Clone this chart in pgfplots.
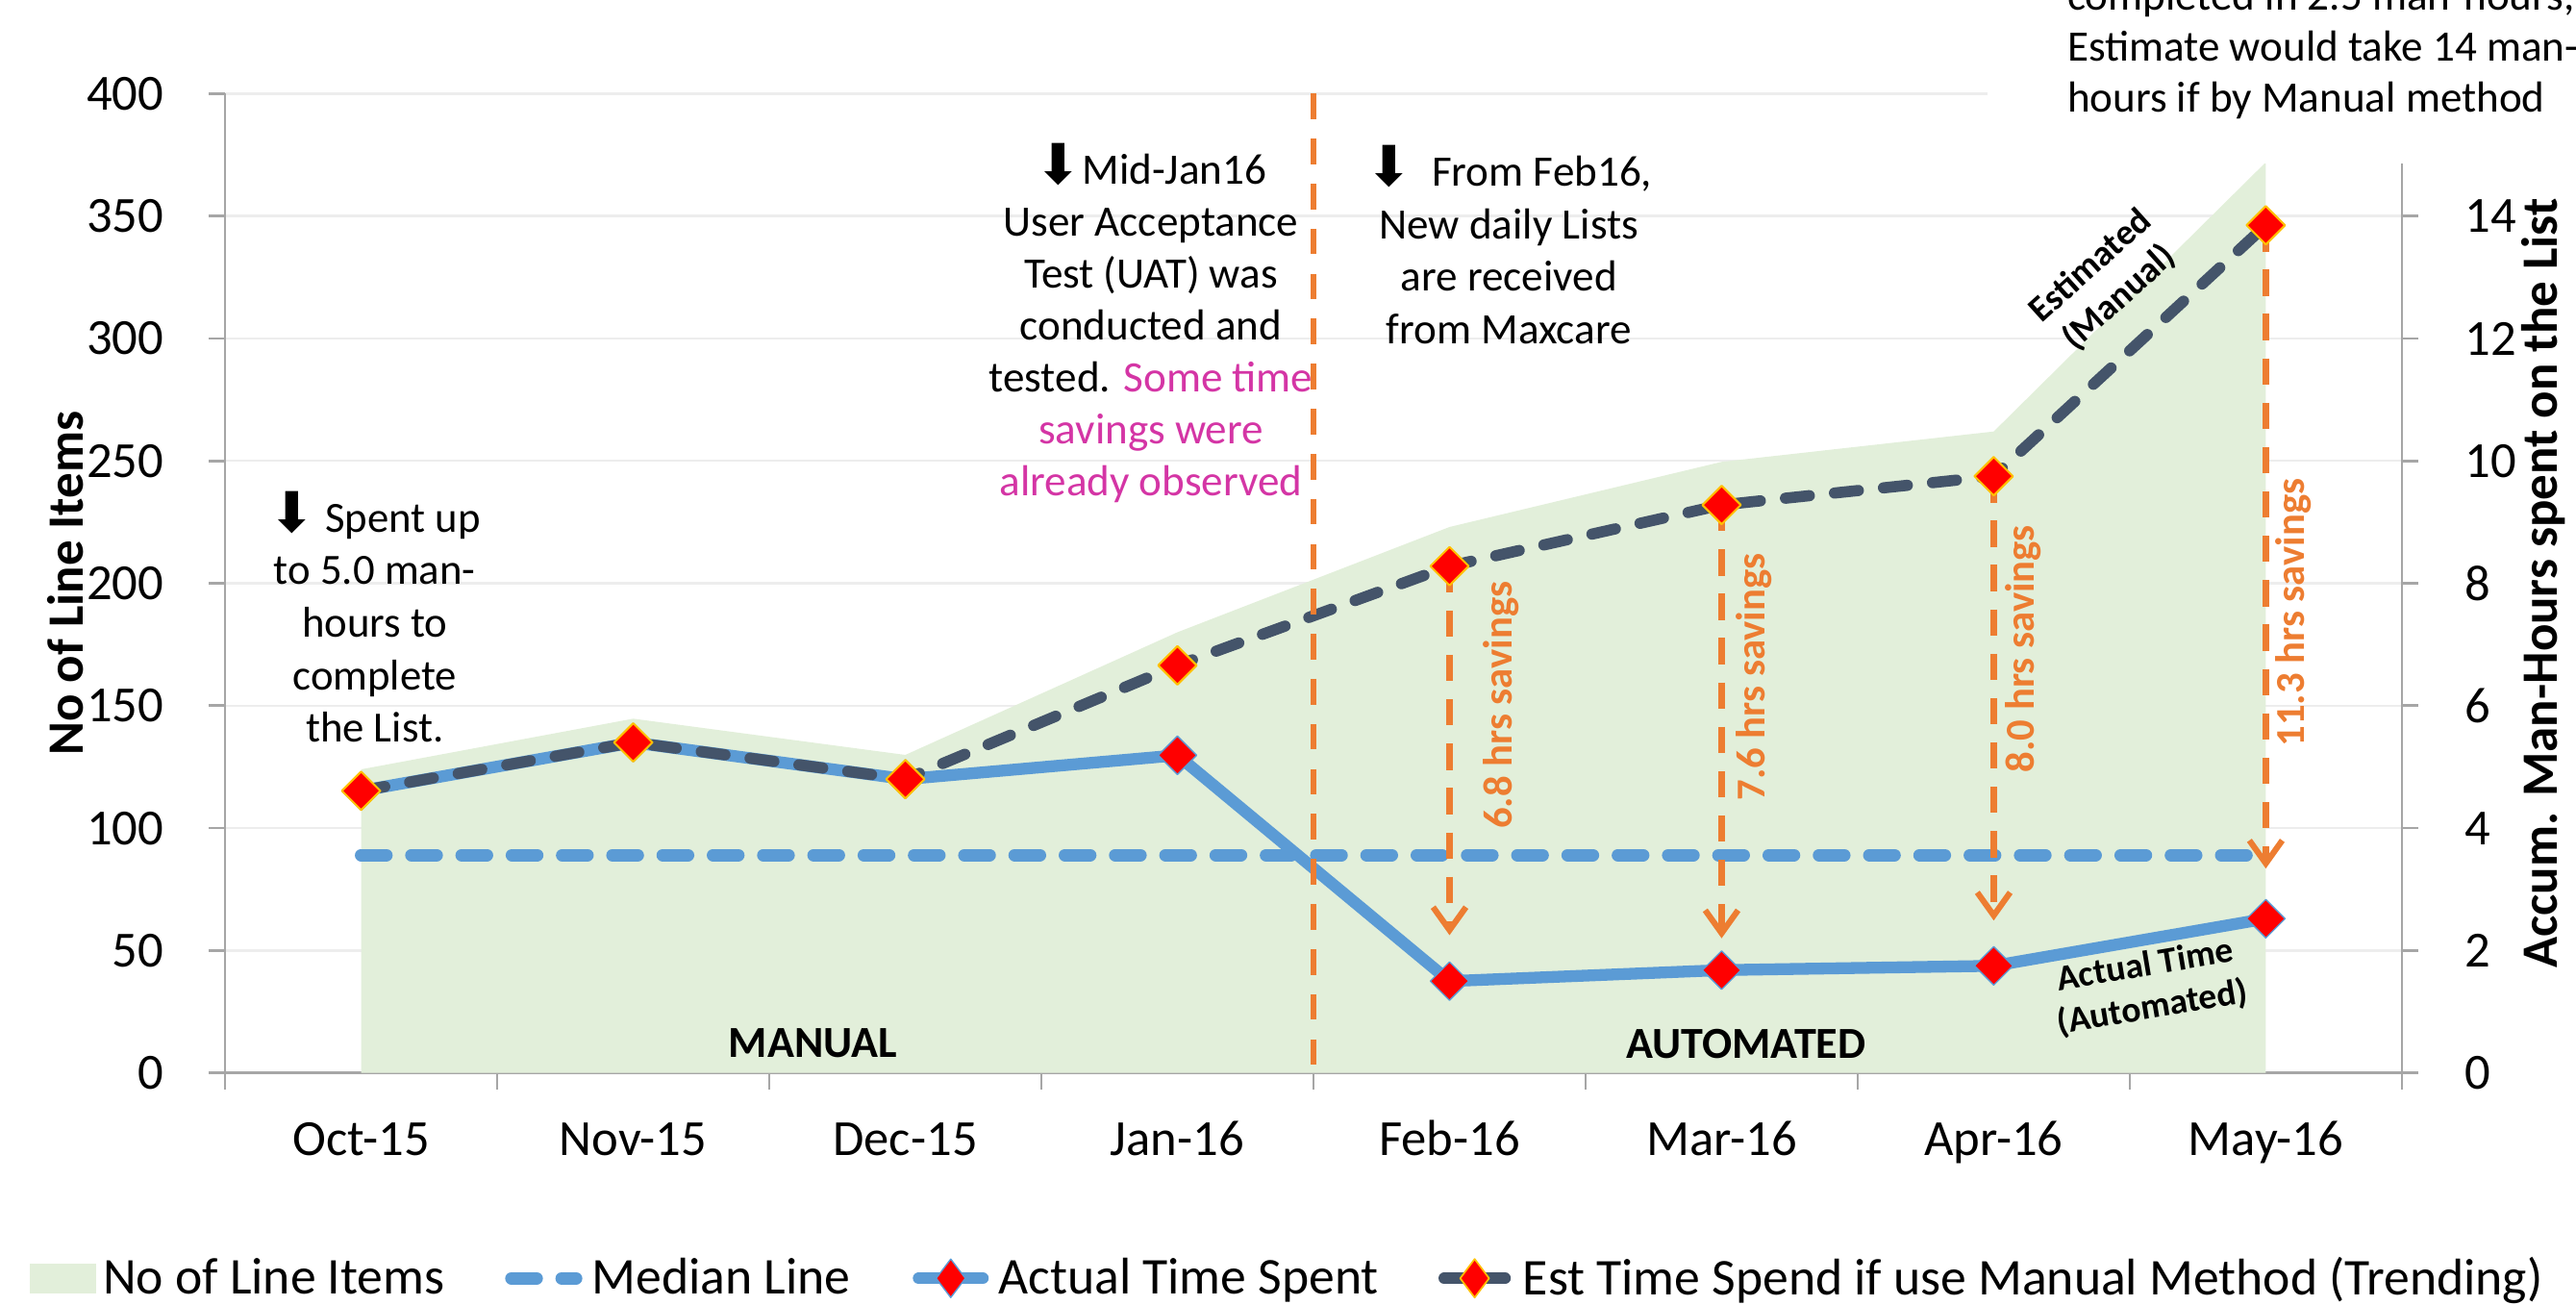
\documentclass[border=0pt]{standalone}
\usepackage{fontspec}
\setmainfont{Carlito}
\newfontfamily\dejavu{DejaVu Sans}
\usepackage{pgfplots}
\pgfplotsset{compat=1.18}
\usetikzlibrary{arrows.meta}
\definecolor{areacol}{HTML}{E2EFDA}
\definecolor{medblue}{HTML}{5B9BD5}
\definecolor{darkslate}{HTML}{44546A}
\definecolor{orng}{HTML}{ED7D31}
\definecolor{magen}{HTML}{D435A5}
\definecolor{goldc}{HTML}{FFC000}
\definecolor{axgray}{HTML}{A6A6A6}
\definecolor{gridgray}{HTML}{EDEDED}
\newcommand{\darr}{{\dejavu\fontsize{17}{16}\selectfont ⬇}}
\newcommand{\fs}[2]{\fontsize{#1}{#2}\selectfont}

\begin{document}
\begin{tikzpicture}
\pgfplotsset{
  common/.style={
    at={(0,0)}, anchor=south west,
    scale only axis, width=662.5pt, height=298pt,
    xmin=-0.5, xmax=7.5,
    /pgf/number format/assume math mode=true,
    tick label style={font=\fs{15.4}{18}},
    axis line style={axgray, line width=0.8pt},
    tick style={axgray, line width=0.8pt},
    tick align=outside,
    major tick length=5pt, minor tick length=5pt,
  },
}
\begin{axis}[common,
  ymin=0, ymax=400,
  axis y line*=left, axis x line*=bottom,
  xtick={-0.5,0.5,...,7.5},
  xticklabel={\relax},
  extra x ticks={0,1,2,3,4,5,6,7},
  extra x tick labels={Oct-15,Nov-15,Dec-15,Jan-16,Feb-16,Mar-16,Apr-16,May-16},
  extra x tick style={tick style={draw=none}},
  ytick={0,50,...,400},
  ymajorgrids, grid style={gridgray, line width=0.7pt},
  xticklabel style={inner sep=0pt, anchor=north, yshift=-10pt, text height=10pt, text depth=0pt},
  yticklabel style={inner sep=0pt, anchor=east, xshift=-13.5pt},
  ylabel={No of Line Items},
  every axis y label/.style={at={(axis description cs:-0.0732,0.5)}, rotate=90, anchor=center, font=\bfseries\fs{15.5}{18}},
]
\addplot[fill=areacol, draw=none] coordinates {(0,124) (1,144.7) (2,129.9) (3,180) (4,223) (5,249.6) (6,262) (7,372)} \closedcycle;
\end{axis}

\begin{axis}[common,
  ymin=0, ymax=16,
  axis y line*=right, axis x line=none,
  ytick={0,2,...,14},
  yticklabel style={inner sep=0pt, anchor=west, xshift=14pt},
  ylabel={Accum. Man-Hours spent on the List},
  every axis y label/.style={at={(axis description cs:1.0649,0.5)}, rotate=90, anchor=center, font=\bfseries\fs{15.5}{18}},
  clip=false,
  legend style={at={(axis description cs:-0.0898,-0.2097)}, anchor=west, draw=none, fill=none,
    legend columns=4, font=\fs{15.7}{18}, inner sep=0pt, outer sep=0pt, column sep=0pt, row sep=0pt,
    nodes={inner sep=0pt}},
  legend cell align=left,
]
\addlegendimage{legend image code/.code={\path (0pt,0pt) (22pt,0pt); \fill[areacol] (0pt,-4.4pt) rectangle (20pt,4.4pt);}}
\addlegendentry{No of Line Items}

\addplot[medblue, line width=3.8pt, line cap=round, dash pattern=on 7.7pt off 7.6pt,
  legend image code/.code={\path (0pt,0pt) (41pt,0pt); \draw[medblue, line width=3.8pt, line cap=round, dash pattern=on 7.7pt off 7.6pt] (18.4pt,0pt) -- (38.1pt,0pt);}]
  coordinates {(0,3.56) (7,3.56)};
\addlegendentry{Median Line}

\addplot[medblue, line width=3.6pt, line join=round, mark=diamond*, mark size=5.85pt,
  mark options={solid, fill=red, draw=medblue, line width=0.4pt, xscale=1.333},
  legend image code/.code={\path (0pt,0pt) (41.5pt,0pt); \draw[medblue, line width=3.6pt, line cap=round, solid] (19pt,0pt) -- (38.5pt,0pt); \filldraw[fill=red, draw=medblue, line width=0.4pt, solid] (28.75pt,5.85pt) -- (33.2pt,0pt) -- (28.75pt,-5.85pt) -- (24.3pt,0pt) -- cycle;}]
  coordinates {(0,4.61) (1,5.40) (2,4.80) (3,5.19) (4,1.50) (5,1.68) (6,1.75) (7,2.52)};
\addlegendentry{Actual Time Spent}

\addplot[darkslate, line width=3.4pt, line cap=round, line join=round, dash pattern=on 7.3pt off 7.7pt,
  mark=diamond*, mark size=5.85pt,
  mark options={solid, fill=red, draw=goldc, line width=0.6pt, xscale=1.333},
  legend image code/.code={\path (0pt,0pt) (40.5pt,0pt); \draw[darkslate, line width=3.4pt, line cap=round, solid] (18.2pt,0pt) -- (36.8pt,0pt); \filldraw[fill=red, draw=goldc, line width=0.5pt, solid] (27.5pt,5.85pt) -- (31.9pt,0pt) -- (27.5pt,-5.85pt) -- (23.1pt,0pt) -- cycle;}]
  coordinates {(0,4.61) (1,5.40) (2,4.80) (3,6.66) (4,8.28) (5,9.28) (6,9.75) (7,13.85)};
\addlegendentry{Est Time Spend if use Manual Method (Trending)}

% separator between manual and automated periods
\draw[orng, line width=1.7pt, dash pattern=on 7.8pt off 5.9pt] (axis cs:3.5,16) -- (axis cs:3.5,0);

% savings arrows
\draw[orng, line width=1.8pt, dash pattern=on 8pt off 5.5pt, -{Straight Barb[length=7pt,width=10pt]}] (axis cs:4,8.28) -- (axis cs:4,2.25);
\draw[orng, line width=1.8pt, dash pattern=on 8pt off 5.5pt, -{Straight Barb[length=7pt,width=10pt]}] (axis cs:5,9.28) -- (axis cs:5,2.20);
\draw[orng, line width=1.8pt, dash pattern=on 8pt off 5.5pt, -{Straight Barb[length=7pt,width=10pt]}] (axis cs:6,9.75) -- (axis cs:6,2.49);
\draw[orng, line width=1.8pt, dash pattern=on 8pt off 5.5pt, -{Straight Barb[length=7pt,width=10pt]}] (axis cs:7,13.85) -- (axis cs:7,3.34);

\node[rotate=90, font=\bfseries\fs{12.5}{15}, text=orng, inner sep=0pt] at (axis cs:4.19,6.01) {6.8 hrs savings};
\node[rotate=90, font=\bfseries\fs{12.5}{15}, text=orng, inner sep=0pt] at (axis cs:5.12,6.47) {7.6 hrs savings};
\node[rotate=90, font=\bfseries\fs{12.5}{15}, text=orng, inner sep=0pt] at (axis cs:6.11,6.93) {8.0 hrs savings};
\node[rotate=90, font=\bfseries\fs{12.5}{15}, text=orng, inner sep=0pt] at (axis cs:7.10,7.52) {11.3 hrs savings};

\node[rotate=42, align=center, font=\bfseries\fs{11}{13}, inner sep=0pt] at (axis cs:6.41,12.92) {Estimated\\(Manual)};
\node[rotate=9.5, align=center, font=\bfseries\fs{11}{13}, inner sep=0pt] at (axis cs:6.57,1.40) {Actual Time\\(Automated)};

\node[font=\bfseries\fs{13.5}{16}, inner sep=0pt] at (axis cs:1.66,0.48) {MANUAL};
\node[font=\bfseries\fs{13.5}{16}, inner sep=0pt] at (axis cs:5.09,0.48) {AUTOMATED};

\node[align=center, font=\fs{13.1}{16}, inner sep=0pt] at (axis cs:0.05,7.45)
  {\darr\ Spent up\\to 5.0 man-\\hours to\\complete\\the List.};
\node[align=center, font=\fs{13.2}{15.8}, inner sep=0pt] at (axis cs:2.903,12.25)
  {\darr Mid-Jan16\\User Acceptance\\Test (UAT) was\\conducted and\\tested. \textcolor{magen}{Some time}\\\textcolor{magen}{savings were}\\\textcolor{magen}{already observed}};
\node[align=center, font=\fs{13.2}{16}, inner sep=0pt] at (axis cs:4.218,13.53)
  {\darr\ \ From Feb16,\\New daily Lists\\are received\\from Maxcare};
\end{axis}

% text box in the top right corner (partly outside the picture)
\fill[white] (536.5pt,276.75pt) rectangle (740pt,345pt);
\node[anchor=west, align=left, inner sep=0pt, font=\fs{13.2}{15.5}] at (560.5pt,311.5pt)
  {completed in 2.5 man-hours,\\Estimate would take 14 man-\\hours if by Manual method};

\pgfresetboundingbox
\useasboundingbox (-68.5pt,-70.5pt) rectangle (715.5pt,326.5pt);
\end{tikzpicture}
\end{document}
